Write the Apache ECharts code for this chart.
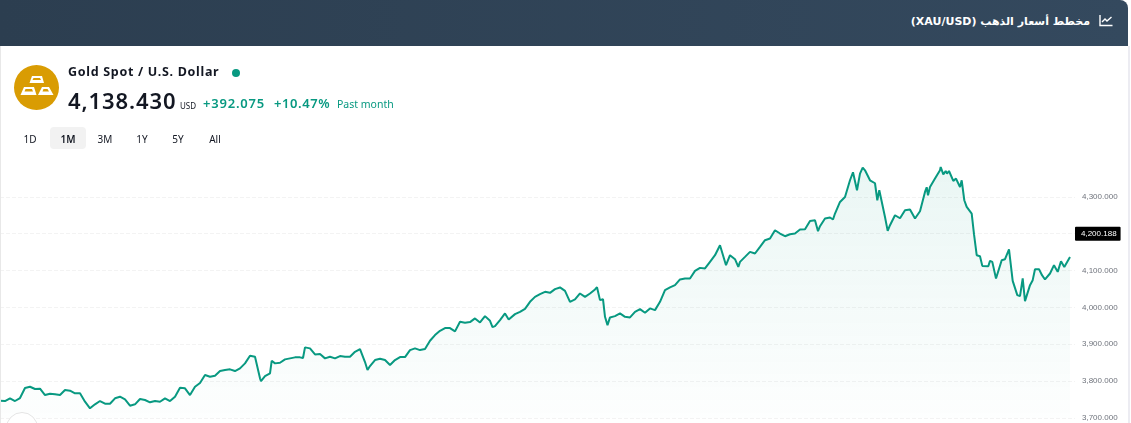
<!DOCTYPE html>
<html>
<head>
<meta charset="utf-8">
<script src="https://cdn.jsdelivr.net/npm/echarts@6/dist/echarts.min.js"></script>
<style>
  html, body { margin: 0; padding: 0; background: #fff; overflow: hidden; }
  body { width: 1131px; height: 423px; position: relative; font-family: "Noto Sans", sans-serif; color: #131722; }
  #main { position: absolute; left: 0; top: 0; width: 1131px; height: 423px; }
  .abs { position: absolute; white-space: nowrap; line-height: 1; }
  #header { position: absolute; left: 0; top: 0; width: 1128px; height: 46px; background: linear-gradient(90deg, #2c3e50, #34495e); border-top-right-radius: 8px; }
  #edgeL { position: absolute; left: 0; top: 46px; width: 1px; height: 377px; background: #e8e8e8; }
  #edgeR { position: absolute; left: 1128px; top: 46px; width: 2px; height: 377px; background: #ececf2; }
  #headerText { position: absolute; right: 38px; top: 15px; color: #fff; font: bold 11px "DejaVu Sans", sans-serif; direction: rtl; white-space: nowrap; }
  .green { color: #089981; }
  .btn { position: absolute; top: 127px; height: 22px; width: 36px; text-align: center; line-height: 25px; font-size: 10px; border-radius: 4px; }
  #tvLogo { position: absolute; left: 6px; top: 412px; width: 32px; height: 32px; border-radius: 50%; border: 1px solid #e4e4e4; background: #fff; text-align: center; font: bold 11px/22px "Liberation Sans", sans-serif; box-sizing: border-box; padding-top: 5px; }
</style>
</head>
<body>
<div id="main"></div>
<div id="edgeL"></div>
<div id="edgeR"></div>
<div id="header">
  <div id="headerText">مخطط أسعار الذهب (XAU/USD)</div>
  <svg class="abs" style="left:1099px;top:14px" width="14" height="13" viewBox="0 0 14 13">
    <path d="M1 1 V11.5 H13.5" fill="none" stroke="#fff" stroke-width="1.4"/>
    <path d="M3 8 L6 5 L8 7 L12.5 3" fill="none" stroke="#fff" stroke-width="1.4"/>
  </svg>
</div>

<svg class="abs" style="left:14px;top:65px" width="45" height="45" viewBox="0 0 45 45">
  <circle cx="22.5" cy="22.5" r="22.5" fill="#d99c03"/>
  <path d="M18 11 L28 11 L30 18 L15.5 18 Z" fill="#fff"/>
  <path d="M10 22 L20 22 L22.5 30 L6.5 30 Z" fill="#fff"/>
  <path d="M28 22 L35 22 L39.5 30 L24 30 Z" fill="#fff"/>
  <path d="M19.5 13 L26 13 L27 15 L18.5 15 Z" fill="#d99c03"/>
  <path d="M11.5 24 L18 24 L19 26.5 L10.5 26.5 Z" fill="#d99c03"/>
  <path d="M29.5 24 L33.5 24 L35 26.5 L28.5 26.5 Z" fill="#d99c03"/>
</svg>

<div class="abs" style="left:68px;top:66px;font-size:12.5px;font-weight:700;letter-spacing:.7px">Gold Spot / U.S. Dollar</div>
<div class="abs" style="left:232px;top:69px;width:8px;height:8px;border-radius:50%;background:#089981"></div>
<div class="abs" style="left:68px;top:89px;font-size:22px;font-weight:600;letter-spacing:.9px">4,138.430</div>
<div class="abs" style="left:180px;top:102px;font-size:8px">USD</div>
<div class="abs green" style="left:203px;top:97px;font-size:13px;font-weight:600;letter-spacing:.8px">+392.075</div>
<div class="abs green" style="left:274px;top:97px;font-size:13px;font-weight:600;letter-spacing:.6px">+10.47%</div>
<div class="abs green" style="left:337px;top:99px;font-size:10.5px">Past month</div>

<div class="btn" style="left:12px">1D</div>
<div class="btn" style="left:50px;background:#f2f2f2;font-weight:600">1M</div>
<div class="btn" style="left:87px">3M</div>
<div class="btn" style="left:124px">1Y</div>
<div class="btn" style="left:160px">5Y</div>
<div class="btn" style="left:197px">All</div>
<div id="tvLogo">TV</div>

<script>
// sampling positions along the month, one unit is one chart bar
var bars = [
  0, 1, 2, 3, 4, 5, 6, 7, 8, 9,
  10, 11, 12, 13, 14, 15, 16, 17, 18, 19,
  20, 21, 22, 23, 24, 25, 26, 27, 28, 29,
  30, 31, 32, 33, 34, 35, 36, 37, 38, 39,
  40, 41, 42, 43, 44, 45, 46, 47, 48, 49,
  50, 51, 52, 52.2, 53, 54, 54.34, 55, 56, 57,
  58, 59, 60, 60.6, 61, 62, 63, 64, 65, 66,
  67, 68, 69, 70, 71, 72, 73, 73.5, 74, 75,
  76, 77, 78, 79, 80, 81, 82, 83, 84, 85,
  86, 87, 88, 89, 90, 91, 92, 93, 94, 95,
  96, 97, 98, 98.5, 99, 100, 101, 101.34, 101.74, 102,
  103, 104, 105, 106, 107, 108, 109, 110, 111, 112,
  113, 114, 115, 116, 117, 118, 119, 119.4, 120, 120.6,
  121, 121.5, 122, 123, 124, 125, 126, 127, 128, 129,
  130, 131, 132, 133, 134, 135, 136, 137, 138, 139,
  140, 141, 142, 143, 144, 144.34, 145.2, 146, 147, 147.66,
  148, 149, 150, 151, 152, 153, 154, 155, 156, 157,
  158, 159, 160, 161, 162, 163, 163.6, 164, 165, 166,
  166.6, 167, 168, 169, 170, 170.6, 171, 171.4, 172, 172.54,
  173, 174, 175, 175.46, 175.86, 177, 177.54, 178, 179, 180,
  181, 182, 183, 184, 185, 185.34, 185.6, 186, 187, 188,
  188.14, 188.66, 189.14, 189.4, 189.8, 190.66, 191.2, 192, 192.34, 192.86,
  193.34, 194.34, 194.8, 195.34, 196, 196.46, 197.66, 198, 198.46, 199.2,
  200.34, 201, 201.8, 202.54, 202.94, 203.46, 204, 204.54, 205, 206,
  206.54, 207, 207.8, 208.4, 209, 210, 210.8, 211.2, 211.54, 212.2,
  212.86, 213.2, 214
];
var prices = [
  3746.9, 3746.1, 3753.4, 3746.1, 3754.2, 3781.3, 3784.8, 3778.6, 3779.4, 3762.3,
  3765.9, 3764.2, 3762.3, 3775.9, 3774, 3766.9, 3766.9, 3744.2, 3726.3, 3737.1,
  3746.1, 3738.8, 3738.8, 3753.4, 3757.7, 3750.7, 3733.3, 3737.1, 3751.5, 3748.8,
  3742.5, 3746.1, 3744.2, 3753.4, 3746.1, 3757.7, 3782.1, 3780.5, 3762.3, 3784.8,
  3794.9, 3816.5, 3811.9, 3814.6, 3827.4, 3830.1, 3832, 3827.4, 3834.7, 3848.2,
  3868.8, 3866.1, 3807.6, 3800.3, 3813.8, 3821.1, 3855.3, 3848.2, 3849.9, 3859.1,
  3861.8, 3864.5, 3864.5, 3862.7, 3891.6, 3888.9, 3872.6, 3873.4, 3861.8, 3866.1,
  3861.8, 3868, 3866.1, 3866.1, 3879.7, 3887, 3851.8, 3830.1, 3840.9, 3857.2,
  3860.7, 3857.2, 3843.6, 3857.2, 3865.3, 3865.3, 3884.3, 3888.9, 3884.3, 3887,
  3909.5, 3924.9, 3936.6, 3943.9, 3943.9, 3935, 3961, 3958.3, 3960.2, 3970.2,
  3959.3, 3976.4, 3963.7, 3946.6, 3949.3, 3965.6, 3983.7, 3985.4, 3967.5, 3971.8,
  3981.8, 3988.1, 3996.2, 4015.2, 4028.7, 4036, 4042.3, 4039.6, 4049.6, 4054.2,
  4045, 4015.2, 4021.7, 4037.9, 4028.7, 4037.9, 4048.8, 4055, 4019.8, 4022.5,
  3974.5, 3952, 3972.9, 3976.4, 3983.7, 3974.5, 3972.9, 3988.1, 3995.4, 3985.4,
  3997.3, 3992.7, 4015.2, 4046.9, 4054.2, 4060.4, 4075.9, 4078.6, 4078.6, 4099.2,
  4107.3, 4105.7, 4123.6, 4141.7, 4168.8, 4168.8, 4114.6, 4141.7, 4130.9, 4110,
  4123.6, 4137.1, 4150.7, 4146.3, 4164.2, 4182.4, 4187, 4209.5, 4200.5, 4193.2,
  4198.6, 4200.5, 4211.4, 4212.2, 4234.7, 4236.6, 4206.8, 4220.3, 4241.2, 4243.9,
  4238.5, 4254.7, 4286.2, 4299.7, 4345, 4366.7, 4363.1, 4317.9, 4363.1, 4379.4,
  4372.1, 4345, 4336.9, 4290.8, 4317.9, 4245.5, 4207.6, 4223, 4250.1, 4242,
  4263.7, 4265.6, 4241.2, 4261, 4313.3, 4326, 4304.3, 4326.8, 4349.6, 4372.1,
  4381, 4361.2, 4370.2, 4363.1, 4370.2, 4343.1, 4349.6, 4326.8, 4345, 4290.8,
  4272.6, 4254.7, 4198.6, 4141.7, 4139, 4112.7, 4111.9, 4126.3, 4123.6, 4078.6,
  4128.2, 4130.9, 4157.2, 4072.1, 4069.4, 4033.3, 4030.6, 4078.6, 4017.1, 4060.4,
  4074, 4103.8, 4103.8, 4087.5, 4075.9, 4092.1, 4114.6, 4114.6, 4096.5, 4125.5,
  4110, 4110, 4137.1
];
var priceTicks = [3700, 3800, 3900, 4000, 4100, 4200, 4300, 4400];
var crossPrice = 4200.188;

function fmt(v) {
  return v.toLocaleString('en-US', { minimumFractionDigits: 3, maximumFractionDigits: 3 });
}

var seriesData = bars.map(function (b, i) { return [b, prices[i]]; });

var myChart = echarts.init(document.getElementById('main'));

var option = {
  animation: false,
  grid: { left: 0, right: 56, top: 160, bottom: 5 },
  xAxis: {
    type: 'value',
    min: 0,
    max: 215,
    show: false,
    splitLine: { show: false }
  },
  yAxis: {
    type: 'value',
    position: 'right',
    min: priceTicks[0],
    max: priceTicks[priceTicks.length - 1],
    interval: 100,
    axisLine: { show: false },
    axisTick: { show: false },
    axisLabel: {
      margin: 7,
      fontSize: 8,
      fontFamily: '"Liberation Sans", Arial, sans-serif',
      color: '#6f737c',
      showMaxLabel: false,
      formatter: function (v) { return fmt(v); }
    },
    splitLine: { showMaxLine: false, lineStyle: { color: '#f3f3f3', type: 'dashed', width: 1 } }
  },
  series: [{
    type: 'line',
    data: seriesData,
    showSymbol: false,
    smooth: false,
    clip: false,
    lineStyle: { color: '#089981', width: 2 },
    areaStyle: {
      color: new echarts.graphic.LinearGradient(0, 0, 0, 1, [
        { offset: 0, color: 'rgba(8,153,129,0.12)' },
        { offset: 1, color: 'rgba(8,153,129,0.01)' }
      ])
    },
    markLine: {
      silent: true,
      symbol: 'none',
      lineStyle: { color: 'transparent', width: 1 },
      data: [{ yAxis: crossPrice }],
      label: {
        show: true,
        position: 'end',
        distance: 0,
        formatter: function () { return fmt(crossPrice); },
        color: '#fff',
        fontSize: 8,
        fontFamily: '"Liberation Sans", Arial, sans-serif',
        backgroundColor: '#000',
        borderRadius: 1,
        padding: [3, 4, 3, 6]
      }
    }
  }]
};

myChart.setOption(option);
</script>
</body>
</html>
